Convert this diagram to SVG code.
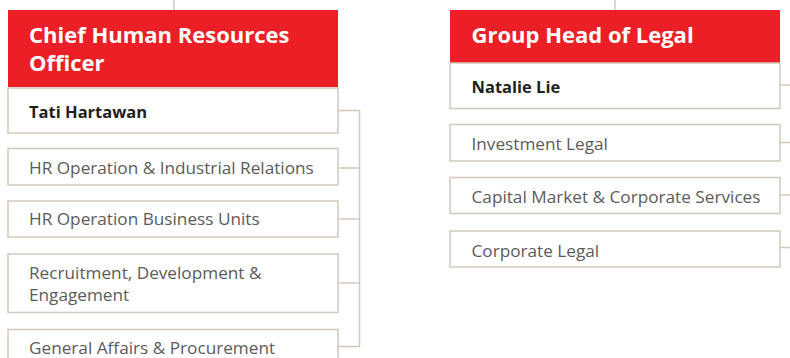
<svg xmlns="http://www.w3.org/2000/svg" width="790" height="358" viewBox="0 0 790 358">
<style>
.hdr{fill:#ec1f26}
.box{fill:#fff;stroke:#d3c8bc;stroke-width:1.5}
.ln{fill:none;stroke:#d3c8bc;stroke-width:1.5}
.ht{font-family:"Open Sans","Liberation Sans",sans-serif;font-weight:700;font-size:22px;fill:#fff}
.nm{font-family:"Open Sans","Liberation Sans",sans-serif;font-weight:700;font-size:16.5px;fill:#231f20}
.it{font-family:"Open Sans","Liberation Sans",sans-serif;font-weight:400;font-size:17.2px;fill:#5b5b5b}
</style>
<g id="connectors">
<path class="ln" d="M174,0V10"/>
<path class="ln" d="M615,0V10"/>
<path class="ln" d="M338,110.5H359.5V346.5H338M338,168H359.5M338,219H359.5M338,283H359.5"/>
<path class="ln" d="M780,85H790M780,142.5H790M780,195H790M780,247.5H790"/>
</g>
<g id="chro-header"><rect class="hdr" x="8" y="10" width="330" height="77"/><text class="ht" x="29" y="43">Chief Human Resources</text><text class="ht" x="29" y="71">Officer</text></g>
<g id="chro-name"><rect class="box" x="8" y="88" width="330" height="45"/><text class="nm" x="29" y="118">Tati Hartawan</text></g>
<g id="hr-ops-ir"><rect class="box" x="8" y="148.5" width="330" height="36.5"/><text class="it" x="29" y="174">HR Operation &amp; Industrial Relations</text></g>
<g id="hr-ops-bu"><rect class="box" x="8" y="201" width="330" height="36"/><text class="it" x="29" y="225">HR Operation Business Units</text></g>
<g id="recruitment"><rect class="box" x="8" y="254" width="330" height="58.5"/><text class="it" x="29" y="279">Recruitment, Development &amp;</text><text class="it" x="29" y="301">Engagement</text></g>
<g id="general-affairs"><rect class="box" x="8" y="329.5" width="330" height="40"/><text class="it" x="29" y="354">General Affairs &amp; Procurement</text></g>
<g id="legal-header"><rect class="hdr" x="450" y="10" width="330" height="53"/><text class="ht" x="471.5" y="43">Group Head of Legal</text></g>
<g id="legal-name"><rect class="box" x="450" y="63" width="330" height="45.5"/><text class="nm" x="471.5" y="93">Natalie Lie</text></g>
<g id="investment-legal"><rect class="box" x="450" y="124.5" width="330" height="36.5"/><text class="it" x="471.5" y="150">Investment Legal</text></g>
<g id="capital-market"><rect class="box" x="450" y="177.5" width="330" height="36"/><text class="it" x="471.5" y="203">Capital Market &amp; Corporate Services</text></g>
<g id="corporate-legal"><rect class="box" x="450" y="231" width="330" height="36"/><text class="it" x="471.5" y="257">Corporate Legal</text></g>
</svg>
